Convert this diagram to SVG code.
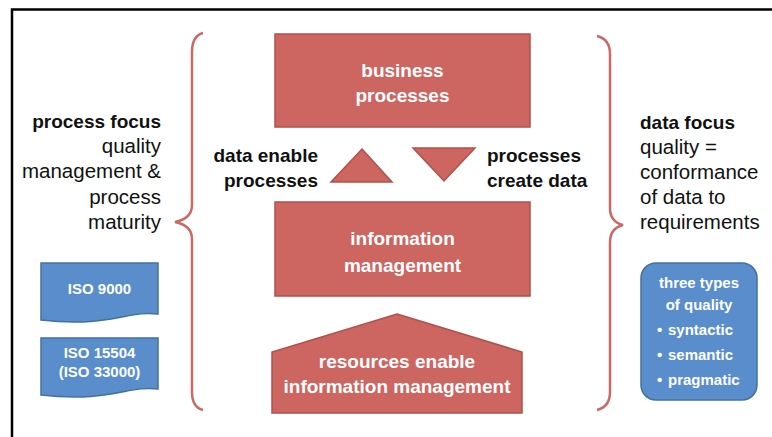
<svg xmlns="http://www.w3.org/2000/svg" width="772" height="437" viewBox="0 0 772 437">
<style>
.red{fill:#CD6561;stroke:#B0504C;stroke-width:1.5}
.blue{fill:#5A8DCB;stroke:#41719C;stroke-width:1.5}
.brace{fill:none;stroke:#C86A66;stroke-width:2.5}
.wt{font-family:"Liberation Sans",Arial,sans-serif;font-weight:bold;fill:#FFFFFF;text-anchor:middle}
.bk{font-family:"Liberation Sans",Arial,sans-serif;font-weight:bold;fill:#111111;font-size:19px}
.rg{font-family:"Liberation Sans",Arial,sans-serif;fill:#111111;font-size:20.5px}
</style>
<rect width="772" height="437" fill="#FFFFFF"/>
<g id="frame" fill="none" stroke="#000" stroke-width="2.5">
<path d="M12,437 V9.5 H772"/>
</g>
<g id="braces">
<path class="brace" d="M203,33 C195,35 192,42 192,52 V205 C192,215 185,220 175,222 C185,224 192,229 192,239 V392 C192,402 195,408 203,410"/>
<path class="brace" d="M597,36 C605,38 610,44 610,54 V208 C610,218 615,223 623,225 C615,227 610,232 610,242 V392 C610,402 605,408 597,410"/>
</g>
<g id="process-focus" text-anchor="end">
<text class="bk" x="161" y="128">process focus</text>
<text class="rg" x="161" y="153">quality</text>
<text class="rg" x="161" y="178">management &amp;</text>
<text class="rg" x="161" y="204">process</text>
<text class="rg" x="161" y="229">maturity</text>
</g>
<g id="data-focus">
<text class="bk" x="640" y="129">data focus</text>
<text class="rg" x="640" y="154">quality =</text>
<text class="rg" x="640" y="179">conformance</text>
<text class="rg" x="640" y="204">of data to</text>
<text class="rg" x="640" y="229">requirements</text>
</g>
<g id="business-processes">
<rect class="red" x="275" y="34" width="255" height="93"/>
<text class="wt" x="402.5" y="77" font-size="19">business</text>
<text class="wt" x="402.5" y="102" font-size="19">processes</text>
</g>
<g id="data-enable-processes">
<polygon class="red" points="362,149 392,182 331,182"/>
<text class="bk" x="318" y="162" text-anchor="end">data enable</text>
<text class="bk" x="318" y="187" text-anchor="end">processes</text>
</g>
<g id="processes-create-data">
<polygon class="red" points="413,148 475,148 444,181"/>
<text class="bk" x="487" y="162">processes</text>
<text class="bk" x="487" y="187">create data</text>
</g>
<g id="information-management">
<rect class="red" x="275" y="202" width="255" height="94"/>
<text class="wt" x="402.5" y="245" font-size="19">information</text>
<text class="wt" x="402.5" y="272" font-size="19">management</text>
</g>
<g id="resources">
<polygon class="red" points="397,314 522,352 522,413 272,413 272,352"/>
<text class="wt" x="397" y="368" font-size="19">resources enable</text>
<text class="wt" x="397" y="393" font-size="19">information management</text>
</g>
<g id="iso9000">
<path class="blue" d="M41,263 H158 V314 C128,310 110,328 41,320 Z"/>
<text class="wt" x="99.5" y="294" font-size="15">ISO 9000</text>
</g>
<g id="iso15504">
<path class="blue" d="M41,338 H158 V389 C128,385 110,403 41,395 Z"/>
<text class="wt" x="99.5" y="358" font-size="15">ISO 15504</text>
<text class="wt" x="99.5" y="377" font-size="15">(ISO 33000)</text>
</g>
<g id="three-types">
<rect class="blue" x="641" y="263" width="116" height="137" rx="15"/>
<text class="wt" x="699" y="288" font-size="15">three types</text>
<text class="wt" x="699" y="310" font-size="15">of quality</text>
<g font-family="Liberation Sans,Arial,sans-serif" font-weight="bold" font-size="15" fill="#FFFFFF">
<text x="657" y="335">•</text><text x="668" y="335">syntactic</text>
<text x="657" y="360">•</text><text x="668" y="360">semantic</text>
<text x="657" y="385">•</text><text x="668" y="385">pragmatic</text>
</g>
</g>
</svg>
